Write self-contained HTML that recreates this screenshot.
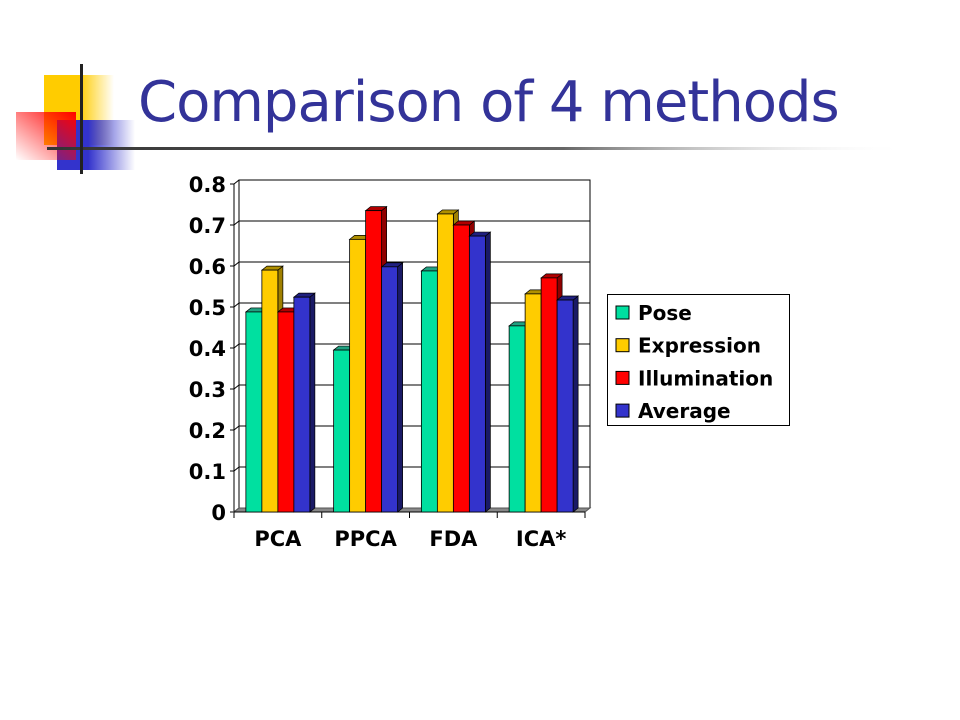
<!DOCTYPE html>
<html><head><meta charset="utf-8"><style>
body{margin:0;width:960px;height:720px;background:#fff;overflow:hidden;position:relative;font-family:"Liberation Sans",sans-serif}
#title{position:absolute;left:138px;top:70px;font-size:56px;color:#333399;white-space:nowrap;font-family:"DejaVu Sans","Liberation Sans",sans-serif;letter-spacing:-1px}
</style></head><body>
<svg width="960" height="180" style="position:absolute;left:0;top:0">
<defs>
<linearGradient id="gy" x1="0" x2="1"><stop offset="0.5" stop-color="#ffcc00"/><stop offset="1" stop-color="#ffcc00" stop-opacity="0"/></linearGradient>
<linearGradient id="gb" x1="0" x2="1"><stop offset="0.4" stop-color="#3333cc"/><stop offset="1" stop-color="#3333cc" stop-opacity="0"/></linearGradient>
<linearGradient id="gr" x1="1" x2="0" y1="0" y2="1"><stop offset="0" stop-color="#ff0000"/><stop offset="1" stop-color="#ff0000" stop-opacity="0"/></linearGradient>
<linearGradient id="gl" x1="0" x2="1"><stop offset="0" stop-color="#333"/><stop offset="0.6" stop-color="#666"/><stop offset="1" stop-color="#fff" stop-opacity="0"/></linearGradient>
</defs>
<rect x="44" y="75" width="70" height="70" fill="url(#gy)"/>
<rect x="57" y="120" width="78" height="50" fill="url(#gb)"/>
<rect x="16" y="112" width="60" height="48" fill="url(#gr)"/>
<rect x="47" y="147" width="860" height="3" fill="url(#gl)"/>
<rect x="80" y="64" width="3" height="110" fill="#222"/>
</svg>
<div id="title">Comparison of 4 methods</div>
<svg id="chart" width="960" height="720" style="position:absolute;left:0;top:0"></svg>
<script>
const categories=["PCA","PPCA","FDA","ICA*"];
const seriesNames=["Pose","Expression","Illumination","Average"];
const pose=[0.488,0.395,0.588,0.454];
const expression=[0.59,0.665,0.727,0.532];
const illumination=[0.488,0.735,0.70,0.571];
const average=[0.524,0.598,0.673,0.517];
const yTicks=[0,0.1,0.2,0.3,0.4,0.5,0.6,0.7,0.8];
const yTickLabels=["0","0.1","0.2","0.3","0.4","0.5","0.6","0.7","0.8"];
const series=[pose,expression,illumination,average];
const colors=["#00e0a0","#ffcc00","#ff0000","#3333cc"];
const tops=["#20a080","#b09000","#b00000","#202080"];
const sides=["#109070","#a08000","#900000","#1a1a66"];
const svg=document.getElementById('chart');
const NS="http://www.w3.org/2000/svg";
function mk(t,a,p){const e=document.createElementNS(NS,t);for(const k in a)e.setAttribute(k,a[k]);(p||svg).appendChild(e);return e;}
const X0=234,X1=585,Y0=512,K=410,DX=5,DY=4;
const y=v=>Y0-v*K;
const cw=(X1-X0)/categories.length;
const bw=16;
// back wall
const wall=mk('rect',{x:X0+DX,y:y(0.8)-DY,width:X1-X0,height:K*0.8,fill:'#fff',stroke:'#000','stroke-width':1});

yTicks.forEach((t,i)=>{
  const g=mk('line',{x1:X0+DX,x2:X1+DX,y1:y(t)-DY,y2:y(t)-DY,stroke:'#000','stroke-width':1});
  
  mk('line',{x1:X0-4,x2:X0,y1:y(t),y2:y(t),stroke:'#000'});
  mk('line',{x1:X0,x2:X0+DX,y1:y(t),y2:y(t)-DY,stroke:'#000'});
  const l=mk('text',{x:226,y:y(t)+8,'text-anchor':'end','font-size':21,'font-weight':'bold','font-family':'DejaVu Sans, sans-serif'});
  l.textContent=yTickLabels[i];
  
});
mk('line',{x1:X0,x2:X0,y1:y(0.8),y2:Y0,stroke:'#000'});
mk('line',{x1:X0+DX,x2:X0+DX,y1:y(0.8)-DY,y2:Y0-DY,stroke:'#000'});
// floor
mk('polygon',{points:`${X0},${Y0} ${X1},${Y0} ${X1+DX},${Y0-DY} ${X0+DX},${Y0-DY}`,fill:'#888',stroke:'#555'});
for(let c=0;c<=categories.length;c++){const xx=X0+c*cw;mk('line',{x1:xx,x2:xx,y1:Y0,y2:Y0+6,stroke:'#000'});}
mk('line',{x1:X0,x2:X1,y1:Y0,y2:Y0,stroke:'#000'});
categories.forEach((c,i)=>{
  const gx=X0+i*cw+cw/2-bw*2;
  series.forEach((s,j)=>{
    const v=s[i],x=gx+j*bw,yt=y(v);
    mk('polygon',{points:`${x+bw},${yt} ${x+bw+DX},${yt-DY} ${x+bw+DX},${Y0-DY} ${x+bw},${Y0}`,fill:sides[j],stroke:'#000','stroke-width':0.7});
    mk('polygon',{points:`${x},${yt} ${x+DX},${yt-DY} ${x+bw+DX},${yt-DY} ${x+bw},${yt}`,fill:tops[j],stroke:'#000','stroke-width':0.7});
    const r=mk('rect',{x:x,y:yt,width:bw,height:Y0-yt,fill:colors[j],stroke:'#000','stroke-width':0.8});
    
    
  });
  const t=mk('text',{x:X0+i*cw+cw/2,y:546,'text-anchor':'middle','font-size':21,'font-weight':'bold','font-family':'DejaVu Sans, sans-serif'});
  t.textContent=c;
  
});
// legend
const lg=mk('g',{});

mk('rect',{x:607.5,y:294.5,width:182,height:131,fill:'#fff',stroke:'#000'},lg);
seriesNames.forEach((n,j)=>{
  const e=mk('g',{},lg);
  
  mk('rect',{x:616,y:306+j*32.7,width:13,height:13,fill:colors[j],stroke:'#000'},e);
  const t=mk('text',{x:638,y:320+j*32.7,'font-size':20,'font-weight':'bold','font-family':'DejaVu Sans, sans-serif'},e);
  t.textContent=n;
});
</script>
</body></html>
